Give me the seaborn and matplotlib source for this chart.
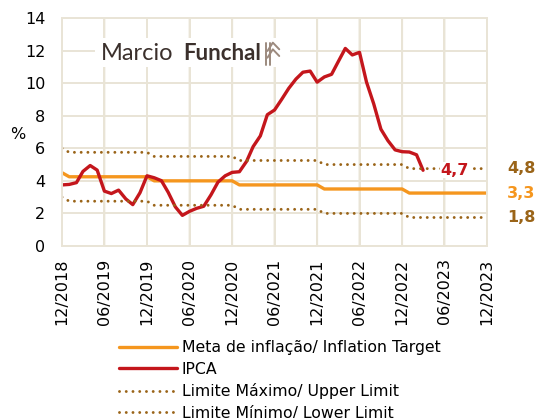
import pandas as pd
import seaborn as sns
import matplotlib.dates as mdates
from matplotlib import pyplot as plt
from matplotlib.lines import Line2D
from matplotlib.patches import Rectangle

# monthly series, 12/2018 onwards
ipca = [3.75, 3.78, 3.89, 4.58, 4.94, 4.66, 3.37, 3.22, 3.43, 2.89, 2.54, 3.27,
        4.31, 4.19, 4.01, 3.30, 2.40, 1.88, 2.13, 2.31, 2.44, 3.14, 3.92, 4.31,
        4.52, 4.56, 5.20, 6.10, 6.76, 8.06, 8.35, 8.99, 9.68, 10.25, 10.67, 10.74,
        10.06, 10.38, 10.54, 11.30, 12.13, 11.73, 11.89, 10.07, 8.73, 7.17, 6.47, 5.90,
        5.79, 5.77, 5.60, 4.65]
target_by_year = {2018: 4.5, 2019: 4.25, 2020: 4.0, 2021: 3.75, 2022: 3.5, 2023: 3.25}
tolerance = 1.5

months = pd.date_range("2018-12-01", "2023-12-01", freq="MS")
target = [target_by_year[d.year] for d in months]
upper = [t + tolerance for t in target]
lower = [t - tolerance for t in target]

labels = ["Meta de inflação/ Inflation Target", "IPCA",
          "Limite Máximo/ Upper Limit", "Limite Mínimo/ Lower Limit"]
end_labels = ["4,7", "4,8", "3,3", "1,8"]

ORANGE = "#F5961E"
RED = "#C4161C"
BROWN = "#9A6418"
GRID = "#E9E4D6"
LOGO = "#3B302C"

sns.set_theme(style="whitegrid", rc={"grid.color": GRID, "grid.linewidth": 1.4,
                                     "axes.edgecolor": GRID, "xtick.color": "black",
                                     "ytick.color": "black", "text.color": "black",
                                     "axes.labelcolor": "black"})
plt.rcParams["font.family"] = ["DejaVu Sans"]

fig = plt.figure(figsize=(5.36, 4.18), dpi=100)
ax = fig.add_axes([0.1157, 0.4115, 0.793, 0.5455])

df = pd.DataFrame({"date": months, "target": target, "upper": upper, "lower": lower})
df_ipca = pd.DataFrame({"date": months[:len(ipca)], "ipca": ipca})

dots = (0, (0.01, 2.3))
sns.lineplot(data=df, x="date", y="target", ax=ax, color=ORANGE, lw=2.4, label=labels[0])
sns.lineplot(data=df_ipca, x="date", y="ipca", ax=ax, color=RED, lw=2.4, label=labels[1])
sns.lineplot(data=df, x="date", y="upper", ax=ax, color=BROWN, lw=2.1, ls=dots,
             dash_capstyle="round", label=labels[2])
sns.lineplot(data=df, x="date", y="lower", ax=ax, color=BROWN, lw=2.1, ls=dots,
             dash_capstyle="round", label=labels[3])

ax.set_xlim(months[0], months[-1])
ax.set_ylim(0, 14)
ax.set_yticks(range(0, 15, 2))
ax.xaxis.set_major_locator(mdates.MonthLocator(bymonth=[6, 12]))
ax.xaxis.set_major_formatter(mdates.DateFormatter("%m/%Y"))
ax.grid(True, axis="both", color=GRID, lw=1.4)
ax.set_axisbelow(True)
# vertical grid as explicit segments at the tick positions
ax.vlines(ax.get_xticks(), 0, 1, transform=ax.get_xaxis_transform(),
          colors=GRID, lw=1.4, zorder=1.5, snap=False)
ax.tick_params(axis="x", rotation=90, labelsize=11.5, pad=9, length=0)
ax.tick_params(axis="y", labelsize=11.5, pad=12, length=0)
ax.set_xlabel("")
ax.set_ylabel("%", rotation=0, fontsize=11.5, va="center")
ax.yaxis.set_label_coords(-0.105, 0.49)
for s in ax.spines.values():
    s.set_color(GRID)
    s.set_linewidth(1.4)

# end-of-line labels
ax.text(df_ipca["date"].iloc[-1] + pd.Timedelta(days=75), ipca[-1], end_labels[0],
        color=RED, fontsize=11.5, fontweight="bold", va="center",
        bbox=dict(facecolor="white", edgecolor="none", pad=0.5))
ax.text(1.047, upper[-1], end_labels[1], transform=ax.get_yaxis_transform(),
        color=BROWN, fontsize=11.5, fontweight="bold", va="center")
ax.text(1.047, target[-1], end_labels[2], transform=ax.get_yaxis_transform(),
        color=ORANGE, fontsize=11.5, fontweight="bold", va="center")
ax.text(1.047, lower[-1], end_labels[3], transform=ax.get_yaxis_transform(),
        color=BROWN, fontsize=11.5, fontweight="bold", va="center")

# logo
fig.add_artist(Rectangle((0.177, 0.84), 0.364, 0.069, transform=fig.transFigure,
                         facecolor="white", edgecolor="none", zorder=5))
fig.text(0.188, 0.873, "Marcio", fontsize=17, color=LOGO, family="Lato",
         fontweight="normal", va="center", ha="left", zorder=6)
fig.text(0.341, 0.873, "Funchal", fontsize=16, color=LOGO, family="Lato",
         fontweight="bold", va="center", ha="left", zorder=6)
for x0 in (0.496, 0.503):
    fig.add_artist(Line2D([x0, x0], [0.845, 0.897], color="#9C8A7E", lw=1.4, zorder=6))
for dy in (0.0, 0.016):
    fig.add_artist(Line2D([0.499, 0.509, 0.521], [0.862 + dy, 0.882 + dy, 0.866 + dy],
                          color="#9C8A7E", lw=1.4, zorder=6))

leg = ax.legend(loc="upper left", bbox_to_anchor=(0.119, -0.385), frameon=False,
                fontsize=11.3, handlelength=3.7, handletextpad=0.3, labelspacing=0.42,
                borderaxespad=0)

fig.savefig("out.png", dpi=100)
